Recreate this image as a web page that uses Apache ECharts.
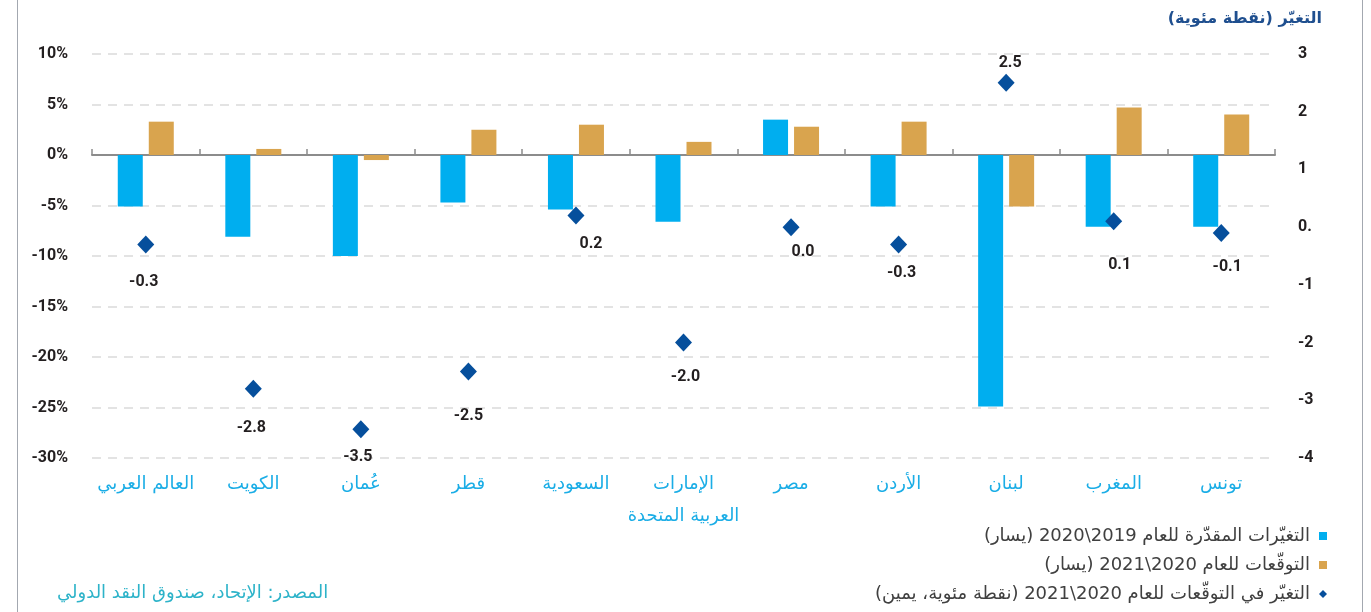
<!DOCTYPE html>
<html>
<head>
<meta charset="utf-8">
<script src="https://cdn.jsdelivr.net/npm/echarts@6/dist/echarts.min.js"></script>
<style>
  html, body { margin: 0; padding: 0; background: #fff; }
  #wrap { position: relative; width: 1371px; height: 612px; }
  #chart { width: 1371px; height: 612px; }
  .edge { position: absolute; top: 0; width: 1px; height: 612px; background: #a3a8b0; }
</style>
</head>
<body>
<div id="wrap">
  <div id="chart"></div>
  <div class="edge" style="left:17px"></div>
  <div class="edge" style="left:1362px"></div>
</div>
<script>
// categories, left to right as printed
var categories = ['العالم العربي', 'الكويت', 'عُمان', 'قطر', 'السعودية', 'الإمارات\nالعربية المتحدة', 'مصر', 'الأردن', 'لبنان', 'المغرب', 'تونس'];
// estimated change 2020/2019 (%, left axis)
var change2020 = [-5.1, -8.1, -10.0, -4.7, -5.4, -6.6, 3.5, -5.1, -24.9, -7.1, -7.1];
// forecast 2021/2020 (%, left axis)
var forecast2021 = [3.3, 0.6, -0.5, 2.5, 3.0, 1.3, 2.8, 3.3, -5.1, 4.7, 4.0];
// change in forecast (pp, right axis)
var forecastRevision = [-0.3, -2.8, -3.5, -2.5, 0.2, -2.0, 0.0, -0.3, 2.5, 0.1, -0.1];
// right axis tick labels as printed
var rightTickValues = [-4, -3, -2, -1, 0, 1, 2, 3];
var rightTickLabels = ['-4', '-3', '-2', '-1', '0.', '1', '2', '3'];

var seriesNames = [
  'التغيّرات المقدّرة للعام 2019\\2020 (يسار)',
  'التوقّعات للعام 2020\\2021 (يسار)',
  'التغيّر في التوقّعات للعام 2020\\2021 (نقطة مئوية، يمين)'
];

// wrap arabic text in a right-to-left embedding
function rtl(s) {
  return s.split('\n').map(function (l) { return '\u202B' + l + '\u202C'; }).join('\n');
}

// nudges for the diamond value labels, as placed in the original
var labelShift = [[-2, 38], [-2, 39], [-3, 28], [0, 45], [15, 28], [2, 34], [12, 25], [3, 29], [4, -20], [6, 44], [6, 34]];

var numFont = 'Roboto, "DejaVu Sans", sans-serif';
var arFont = '"DejaVu Sans", sans-serif';

var myChart = echarts.init(document.getElementById('chart'));
myChart.setOption({
  animation: false,
  color: ['#00aeef', '#d9a44e', '#064f9c'],
  title: [
    {
      text: rtl('التغيّر (نقطة مئوية)'),
      right: 44,
      top: 6,
      textStyle: { color: '#1f4f8f', fontSize: 16, fontWeight: 'bold', fontFamily: arFont }
    },
    {
      text: rtl('المصدر: الإتحاد، صندوق النقد الدولي'),
      left: 52,
      top: 579,
      textStyle: { color: '#2db3c9', fontSize: 18, fontWeight: 'normal', fontFamily: arFont }
    }
  ],
  legend: {
    orient: 'vertical',
    right: 44,
    top: 526,
    padding: 0,
    align: 'right',
    itemWidth: 8,
    itemHeight: 8,
    itemGap: 9,
    textStyle: { color: '#404040', fontSize: 18, lineHeight: 20, fontFamily: arFont, padding: [0, 4, 0, 0] },
    formatter: function (name) { return rtl(name); },
    data: [
      { name: seriesNames[0], icon: 'rect' },
      { name: seriesNames[1], icon: 'rect' },
      { name: seriesNames[2], icon: 'diamond' }
    ]
  },
  grid: {
    left: 92,
    right: 96,
    top: 54,
    height: 404
  },
  xAxis: [
    {
      type: 'category',
      data: categories,
      position: 'bottom',
      axisLine: { onZero: true, lineStyle: { color: '#8c8c8c', width: 2 } },
      axisTick: { show: true, inside: true, length: 6, lineStyle: { color: '#8c8c8c', width: 1.5 } },
      axisLabel: { show: false }
    },
    {
      type: 'category',
      data: categories,
      position: 'bottom',
      axisLine: { show: false, onZero: false },
      axisTick: { show: false },
      axisLabel: {
        margin: 10,
        interval: 0,
        color: '#1aade6',
        fontSize: 18,
        lineHeight: 32,
        fontFamily: arFont,
        formatter: function (v) { return rtl(v); }
      }
    }
  ],
  yAxis: [
    {
      type: 'value',
      min: -30,
      max: 10,
      interval: 5,
      axisLine: { show: false },
      axisTick: { show: false },
      axisLabel: {
        margin: 24,
        color: '#231f20',
        fontSize: 16,
        fontWeight: 'bold',
        fontFamily: numFont,
        formatter: '{value}%'
      },
      splitLine: { lineStyle: { color: '#dadada', width: 1.5, type: [9, 7] } }
    },
    {
      type: 'value',
      position: 'right',
      min: -4,
      max: 3,
      interval: 1,
      axisLine: { show: false },
      axisTick: { show: false },
      splitLine: { show: false },
      axisLabel: {
        margin: 23,
        align: 'left',
        color: '#231f20',
        fontSize: 16,
        fontWeight: 'bold',
        fontFamily: numFont,
        padding: [0, 0, 8, 0],
        formatter: function (v) {
          var i = rightTickValues.indexOf(Math.round(v));
          return i < 0 ? '' : rightTickLabels[i];
        }
      }
    }
  ],
  series: [
    {
      name: seriesNames[0],
      type: 'bar',
      xAxisIndex: 0,
      yAxisIndex: 0,
      barWidth: 25,
      barGap: '24%',
      data: change2020
    },
    {
      name: seriesNames[1],
      type: 'bar',
      xAxisIndex: 0,
      yAxisIndex: 0,
      barWidth: 25,
      data: forecast2021
    },
    {
      name: seriesNames[2],
      type: 'scatter',
      xAxisIndex: 0,
      yAxisIndex: 1,
      symbol: 'diamond',
      symbolSize: [17, 18],
      itemStyle: { opacity: 1 },
      z: 5,
      label: {
        show: true,
        position: 'inside',
        color: '#231f20',
        fontSize: 16,
        fontWeight: 'bold',
        fontFamily: numFont,
        formatter: function (p) { return p.value.toFixed(1); }
      },
      data: forecastRevision.map(function (v, i) {
        return { value: v, label: { offset: labelShift[i] } };
      })
    }
  ]
});
</script>
</body>
</html>
